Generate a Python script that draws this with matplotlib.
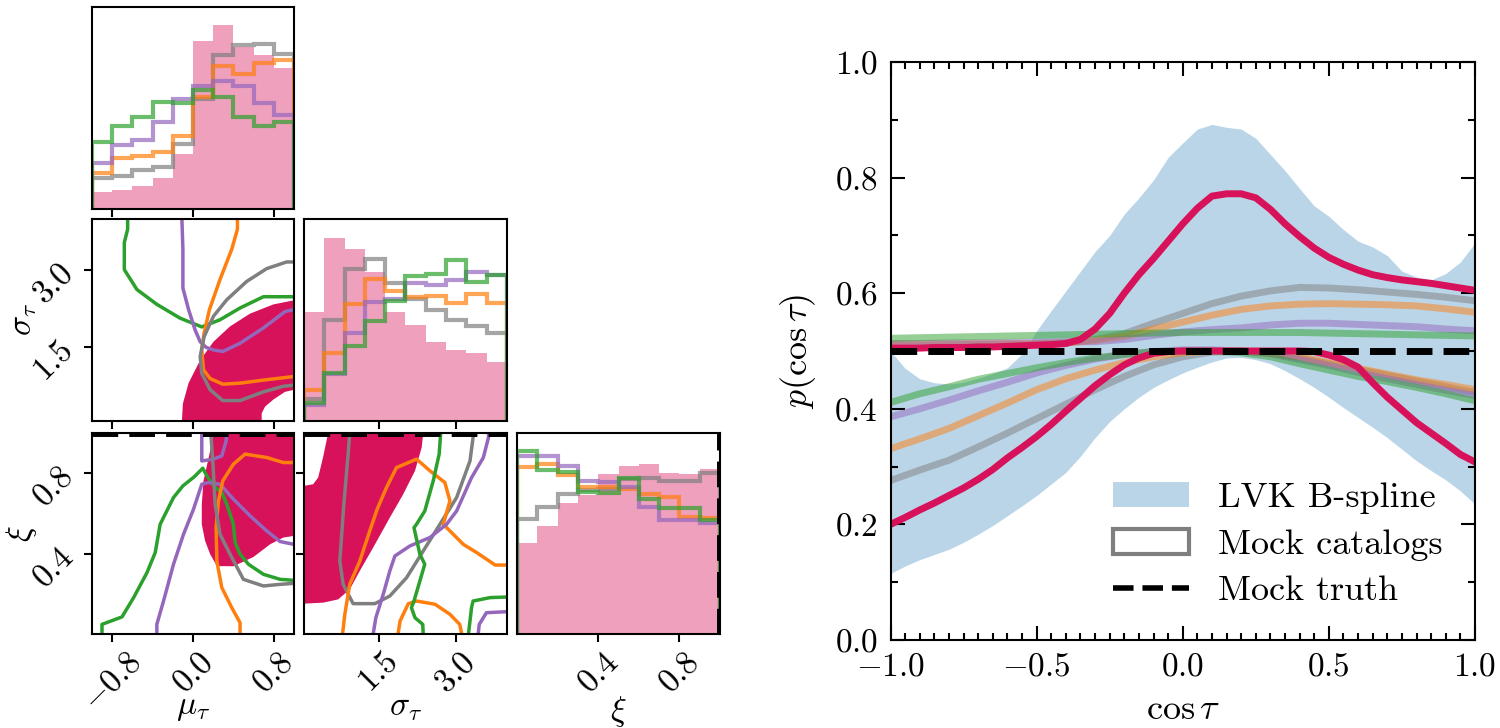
import numpy as np
import matplotlib
matplotlib.use('Agg')
import matplotlib.pyplot as plt
from matplotlib.patches import Patch
from matplotlib.lines import Line2D
from matplotlib.ticker import MultipleLocator, FixedLocator

plt.rcParams.update({
    'font.family': 'serif',
    'font.serif': ['cmr10', 'DejaVu Serif'],
    'mathtext.fontset': 'cm',
    'axes.formatter.use_mathtext': True,
    'axes.unicode_minus': True,
})

# ---------------- data: corner plot ----------------
MU_LIM = (-1.0, 1.0)
SIG_LIM = (0.05, 4.0)
XI_LIM = (0.0, 1.0)
MU_TICKS = [-0.8, 0.0, 0.8]
SIG_TICKS = [1.5, 3.0]
XI_TICKS = [0.4, 0.8]
TRUTH_XI = 1.0
N_BINS = 10

# diagonal histograms (relative heights)
mu_hist_data = [0.082, 0.092, 0.112, 0.153, 0.273, 0.832, 0.910, 0.803, 0.761, 0.696]
mu_hist_gray = [0.153, 0.161, 0.191, 0.206, 0.322, 0.543, 0.762, 0.811, 0.819, 0.766]
mu_hist_orange = [0.178, 0.252, 0.260, 0.280, 0.362, 0.556, 0.709, 0.668, 0.724, 0.740]
mu_hist_purple = [0.227, 0.317, 0.342, 0.433, 0.546, 0.609, 0.633, 0.609, 0.526, 0.465]
mu_hist_green = [0.334, 0.411, 0.457, 0.530, 0.523, 0.589, 0.556, 0.457, 0.411, 0.433]

sig_hist_data = [0.542, 0.906, 0.851, 0.736, 0.542, 0.476, 0.393, 0.352, 0.336, 0.294]
sig_hist_gray = [0.107, 0.501, 0.752, 0.802, 0.683, 0.603, 0.550, 0.501, 0.468, 0.435]
sig_hist_orange = [0.154, 0.336, 0.580, 0.702, 0.646, 0.613, 0.620, 0.583, 0.630, 0.583]
sig_hist_purple = [0.079, 0.233, 0.435, 0.590, 0.603, 0.683, 0.674, 0.696, 0.736, 0.722]
sig_hist_green = [0.091, 0.240, 0.369, 0.493, 0.592, 0.719, 0.727, 0.795, 0.689, 0.722]

xi_hist_data = [0.451, 0.537, 0.650, 0.691, 0.795, 0.835, 0.845, 0.802, 0.798, 0.823]
xi_hist_gray = [0.570, 0.630, 0.696, 0.716, 0.719, 0.769, 0.774, 0.762, 0.762, 0.803]
xi_hist_orange = [0.831, 0.848, 0.790, 0.732, 0.732, 0.719, 0.696, 0.683, 0.583, 0.575]
xi_hist_purple = [0.884, 0.884, 0.836, 0.762, 0.757, 0.732, 0.630, 0.567, 0.567, 0.550]
xi_hist_green = [0.911, 0.815, 0.807, 0.707, 0.702, 0.774, 0.674, 0.625, 0.625, 0.567]

# (mu, sigma) panel
ms_fill_mu = [-0.110, -0.100, -0.044, 0.071, 0.203, 0.367, 0.565, 0.796, 1.0, 1.0, 0.911, 0.796, 0.713, 0.680, 0.680]
ms_fill_sig = [0.05, 0.39, 0.79, 1.24, 1.60, 1.90, 2.15, 2.33, 2.41, 0.66, 0.62, 0.47, 0.33, 0.20, 0.05]
ms_green_mu = [-0.647, -0.647, -0.680, -0.680, -0.555, -0.357, -0.127, 0.087, 0.268, 0.466, 0.697, 1.0]
ms_green_sig = [4.01, 3.80, 3.54, 3.01, 2.62, 2.33, 2.06, 1.89, 2.03, 2.26, 2.48, 2.48]
ms_purple_mu = [-0.110, -0.100, -0.100, -0.044, 0.021, 0.071, 0.130, 0.203, 0.295, 0.466, 0.697, 0.911, 1.0]
ms_purple_sig = [4.01, 3.41, 2.65, 2.23, 1.83, 1.60, 1.49, 1.44, 1.41, 1.57, 1.87, 2.19, 2.23]
ms_orange_mu = [0.440, 0.440, 0.384, 0.268, 0.163, 0.110, 0.087, 0.104, 0.170, 0.295, 0.466, 0.697, 1.0]
ms_orange_sig = [4.01, 3.80, 3.41, 2.82, 2.23, 1.77, 1.44, 1.05, 0.88, 0.77, 0.79, 0.85, 0.92]
ms_gray_mu = [1.0, 0.927, 0.730, 0.532, 0.334, 0.203, 0.110, 0.071, 0.087, 0.170, 0.295, 0.466, 0.697, 0.895, 1.0]
ms_gray_sig = [3.16, 3.16, 3.03, 2.78, 2.42, 2.10, 1.70, 1.31, 0.98, 0.66, 0.45, 0.45, 0.62, 0.73, 0.75]

# (mu, xi) panel
mx_fill_mu = [0.203, 0.163, 0.104, 0.087, 0.087, 0.120, 0.170, 0.236, 0.400, 0.598, 0.763, 0.895, 1.0, 1.0]
mx_fill_xi = [1.0, 0.895, 0.762, 0.646, 0.546, 0.463, 0.397, 0.338, 0.337, 0.383, 0.446, 0.480, 0.488, 1.0]
mx_green_mu = [-0.901, -0.901, -0.703, -0.588, -0.456, -0.374, -0.325, -0.193, -0.100, 0.012, 0.097, 0.137,
               0.203, 0.285, 0.334, 0.400, 0.417, 0.466, 0.549, 0.697, 0.862, 1.0]
mx_green_xi = [0.0, 0.048, 0.085, 0.181, 0.305, 0.405, 0.546, 0.679, 0.737, 0.782, 0.825, 0.787,
               0.737, 0.704, 0.646, 0.546, 0.455, 0.397, 0.347, 0.297, 0.272, 0.267]
mx_purple_mu = [-0.358, -0.358, -0.292, -0.193, -0.094, 0.005, 0.087, 0.153, 0.268, 0.400, 0.565, 0.730, 0.862, 1.0]
mx_purple_xi = [0.0, 0.048, 0.164, 0.347, 0.496, 0.621, 0.745, 0.754, 0.745, 0.671, 0.588, 0.513, 0.460, 0.446]
mx_purple2_mu = [0.087, 0.087, 0.203, 0.285, 0.328, 0.334]
mx_purple2_xi = [1.0, 0.861, 0.870, 0.886, 0.961, 1.0]
mx_orange_mu = [0.466, 0.466, 0.384, 0.285, 0.236, 0.229, 0.252, 0.295, 0.400, 0.516, 0.730, 0.895, 1.0]
mx_orange_xi = [0.0, 0.056, 0.131, 0.231, 0.363, 0.529, 0.662, 0.762, 0.845, 0.895, 0.878, 0.853, 0.853]
mx_gray_mu = [0.176, 0.196, 0.219, 0.268, 0.367, 0.499, 0.697, 0.862, 1.0]
mx_gray_xi = [1.0, 0.861, 0.646, 0.496, 0.397, 0.272, 0.239, 0.247, 0.252]

# (sigma, xi) panel
sx_fill_sig = [0.05, 0.05, 0.42, 0.714, 0.94, 1.136, 1.396, 1.72, 1.98, 2.21, 2.34, 2.37, 0.52, 0.42, 0.325, 0.227, 0.05]
sx_fill_xi = [0.737, 0.151, 0.156, 0.172, 0.222, 0.314, 0.430, 0.579, 0.695, 0.812, 0.928, 1.0, 1.0, 0.878, 0.778, 0.745, 0.737]
sx_gray_sig = [0.94, 0.909, 0.825, 0.747, 0.812, 1.006, 1.429, 1.72, 2.045, 2.37, 2.695, 3.02, 3.28, 3.34, 3.34]
sx_gray_xi = [1.0, 0.895, 0.646, 0.363, 0.247, 0.151, 0.151, 0.189, 0.280, 0.413, 0.546, 0.679, 0.861, 0.978, 1.0]
sx_orange_sig = [0.80, 0.844, 0.94, 1.136, 1.33, 1.474, 1.656, 1.85, 2.24, 2.50, 2.79, 2.89, 2.76, 3.15, 3.41, 3.77, 4.0]
sx_orange_xi = [0.0, 0.098, 0.247, 0.363, 0.513, 0.621, 0.729, 0.828, 0.870, 0.812, 0.754, 0.662, 0.546, 0.446, 0.405, 0.343, 0.343]
sx_orange2_sig = [1.88, 1.92, 2.08, 2.24, 2.60, 2.89, 3.08, 3.12]
sx_orange2_xi = [0.0, 0.065, 0.151, 0.164, 0.148, 0.098, 0.048, 0.0]
sx_purple_sig = [1.396, 1.448, 1.591, 1.72, 1.818, 2.11, 2.50, 2.825, 3.02, 3.31, 3.54, 3.64, 3.64]
sx_purple_xi = [0.0, 0.081, 0.197, 0.314, 0.388, 0.438, 0.480, 0.546, 0.612, 0.778, 0.878, 0.978, 1.0]
sx_purple2_sig = [3.44, 3.46, 3.60, 4.0]
sx_purple2_xi = [0.0, 0.048, 0.106, 0.111]
sx_green_sig = [2.71, 2.68, 2.565, 2.40, 2.24, 2.19, 2.305, 2.40, 2.305, 2.19, 2.14, 2.21, 2.36, 2.37]
sx_green_xi = [1.0, 0.895, 0.762, 0.612, 0.546, 0.529, 0.397, 0.347, 0.264, 0.164, 0.131, 0.081, 0.048, 0.0]
sx_green2_sig = [3.25, 3.31, 3.34, 3.67, 4.0]
sx_green2_xi = [0.0, 0.131, 0.164, 0.181, 0.184]

# ---------------- data: p(cos tau) ----------------
COS_FINE = [-1.0, -0.95, -0.9, -0.85, -0.8, -0.75, -0.7, -0.65, -0.6, -0.55, -0.5,
            -0.45, -0.4, -0.35, -0.3, -0.25, -0.2, -0.15, -0.1, -0.05, 0.0,
            0.05, 0.1, 0.15, 0.2, 0.25, 0.3, 0.35, 0.4, 0.45, 0.5,
            0.55, 0.6, 0.65, 0.7, 0.75, 0.8, 0.85, 0.9, 0.95, 1.0]
LVK_HI = [0.500, 0.470, 0.452, 0.445, 0.443, 0.446, 0.453, 0.461, 0.471, 0.495, 0.535,
          0.570, 0.604, 0.638, 0.672, 0.700, 0.737, 0.765, 0.796, 0.835, 0.860,
          0.884, 0.892, 0.887, 0.884, 0.868, 0.840, 0.812, 0.781, 0.751, 0.733,
          0.710, 0.690, 0.680, 0.665, 0.638, 0.628, 0.623, 0.634, 0.654, 0.687]
LVK_LO = [0.115, 0.128, 0.139, 0.148, 0.157, 0.169, 0.183, 0.198, 0.215, 0.232, 0.250,
          0.270, 0.290, 0.318, 0.350, 0.378, 0.400, 0.420, 0.437, 0.450, 0.462,
          0.472, 0.481, 0.488, 0.489, 0.485, 0.478, 0.466, 0.452, 0.437, 0.420,
          0.402, 0.385, 0.368, 0.350, 0.330, 0.310, 0.293, 0.277, 0.258, 0.235]
DATA_HI = [0.505, 0.505, 0.505, 0.506, 0.506, 0.506, 0.507, 0.507, 0.508, 0.509, 0.510,
           0.511, 0.513, 0.520, 0.538, 0.565, 0.600, 0.632, 0.660, 0.690, 0.720,
           0.747, 0.768, 0.772, 0.772, 0.765, 0.745, 0.720, 0.698, 0.678, 0.662,
           0.650, 0.640, 0.632, 0.627, 0.623, 0.620, 0.617, 0.613, 0.609, 0.605]
DATA_LO = [0.200, 0.212, 0.225, 0.237, 0.250, 0.263, 0.278, 0.295, 0.315, 0.333, 0.352,
           0.373, 0.396, 0.418, 0.440, 0.459, 0.476, 0.488, 0.496, 0.499, 0.500,
           0.500, 0.500, 0.500, 0.500, 0.500, 0.500, 0.500, 0.500, 0.499, 0.493,
           0.485, 0.472, 0.445, 0.420, 0.398, 0.376, 0.358, 0.340, 0.321, 0.308]

COS_X = [-1.0, -0.9, -0.8, -0.7, -0.6, -0.5, -0.4, -0.3, -0.2, -0.1, 0.0,
         0.1, 0.2, 0.3, 0.4, 0.5, 0.6, 0.7, 0.8, 0.9, 1.0]
GRAY_HI = [0.510, 0.510, 0.511, 0.511, 0.512, 0.512, 0.514, 0.520, 0.530, 0.548, 0.565,
           0.582, 0.595, 0.604, 0.610, 0.609, 0.606, 0.602, 0.598, 0.593, 0.587]
GRAY_LO = [0.276, 0.294, 0.311, 0.334, 0.358, 0.383, 0.408, 0.433, 0.456, 0.476, 0.490,
           0.498, 0.500, 0.496, 0.488, 0.478, 0.468, 0.458, 0.448, 0.438, 0.428]
ORANGE_HI = [0.512, 0.512, 0.512, 0.513, 0.513, 0.513, 0.514, 0.518, 0.525, 0.538, 0.550,
             0.562, 0.572, 0.578, 0.581, 0.582, 0.581, 0.580, 0.578, 0.573, 0.567]
ORANGE_LO = [0.331, 0.348, 0.366, 0.388, 0.410, 0.433, 0.452, 0.467, 0.480, 0.490, 0.497,
             0.500, 0.500, 0.496, 0.490, 0.480, 0.470, 0.460, 0.450, 0.442, 0.433]
PURPLE_HI = [0.513, 0.513, 0.514, 0.514, 0.515, 0.515, 0.516, 0.516, 0.520, 0.527, 0.533,
             0.537, 0.540, 0.545, 0.548, 0.548, 0.546, 0.544, 0.542, 0.538, 0.535]
PURPLE_LO = [0.386, 0.400, 0.415, 0.431, 0.446, 0.462, 0.475, 0.486, 0.494, 0.499, 0.502,
             0.502, 0.500, 0.495, 0.485, 0.475, 0.463, 0.452, 0.442, 0.432, 0.423]
GREEN_HI = [0.522, 0.523, 0.524, 0.525, 0.526, 0.527, 0.528, 0.529, 0.530, 0.531, 0.532,
            0.532, 0.532, 0.532, 0.532, 0.531, 0.530, 0.529, 0.528, 0.527, 0.526]
GREEN_LO = [0.411, 0.426, 0.438, 0.451, 0.461, 0.471, 0.480, 0.488, 0.494, 0.499, 0.500,
            0.500, 0.497, 0.490, 0.478, 0.467, 0.456, 0.447, 0.437, 0.426, 0.414]
TRUTH_P = 0.5

LEGEND_LABELS = ['LVK B-spline', 'Mock catalogs', 'Mock truth']

# ---------------- styles ----------------
CRIMSON = '#D7125A'
C_GRAY, C_ORANGE, C_PURPLE, C_GREEN = '#7f7f7f', '#ff7f0e', '#9467bd', '#2ca02c'
FS = 24
FS_LAB = 26
W, H = 1500, 728

fig = plt.figure(figsize=(W / 100, H / 100), dpi=100)


def px_axes(x0, y0, x1, y1):
    return fig.add_axes([x0 / W, 1 - y1 / H, (x1 - x0) / W, (y1 - y0) / H])


cols = [(92, 294), (304, 507), (517, 720)]
rows = [(7, 209), (219, 421), (433, 634)]
lims = [MU_LIM, SIG_LIM, XI_LIM]
ticks = [MU_TICKS, SIG_TICKS, XI_TICKS]
labels = [r'$\mu_\tau$', r'$\sigma_\tau$', r'$\xi$']


def style_corner(ax, i, j):
    ax.set_xlim(*lims[j])
    ax.xaxis.set_major_locator(FixedLocator(ticks[j]))
    ax.tick_params(direction='out', length=6, width=1.5, labelsize=FS)
    for s in ax.spines.values():
        s.set_linewidth(1.5)
    if i == 2:
        ax.set_xlabel(labels[j], fontsize=FS)
        ax.xaxis.set_label_coords(0.5, -0.3)
        for lab in ax.get_xticklabels():
            lab.set_rotation(45)
    else:
        ax.set_xticklabels([])
    if i != j:
        ax.set_ylim(*lims[i])
        ax.yaxis.set_major_locator(FixedLocator(ticks[i]))
        if j == 0:
            ax.set_ylabel(labels[i], fontsize=FS)
            ax.yaxis.set_label_coords(-0.26, 0.5)
            for lab in ax.get_yticklabels():
                lab.set_rotation(45)
        else:
            ax.set_yticklabels([])
    else:
        ax.set_ylim(0, 1)
        ax.set_yticks([])


hist_sets = [
    (mu_hist_data, mu_hist_gray, mu_hist_orange, mu_hist_purple, mu_hist_green),
    (sig_hist_data, sig_hist_gray, sig_hist_orange, sig_hist_purple, sig_hist_green),
    (xi_hist_data, xi_hist_gray, xi_hist_orange, xi_hist_purple, xi_hist_green),
]

axes = {}
for i in range(3):
    for j in range(i + 1):
        axes[(i, j)] = px_axes(cols[j][0], rows[i][0], cols[j][1], rows[i][1])

# diagonal
for k in range(3):
    ax = axes[(k, k)]
    edges = np.linspace(lims[k][0], lims[k][1], N_BINS + 1)
    d, g, o, p, gr = hist_sets[k]
    ax.stairs(d, edges, fill=True, color=CRIMSON, alpha=0.4, lw=0)
    for vals, c in [(g, C_GRAY), (o, C_ORANGE), (p, C_PURPLE), (gr, C_GREEN)]:
        ax.stairs(vals, edges, baseline=0, fill=False, color=c, alpha=0.7, lw=3)
    if k == 2:
        ax.axvline(TRUTH_XI, color='k', ls='--', lw=5)
    style_corner(ax, k, k)

# off diagonal
ax = axes[(1, 0)]
ax.fill(ms_fill_mu, ms_fill_sig, color=CRIMSON, lw=0)
for xs, ys, c in [(ms_green_mu, ms_green_sig, C_GREEN), (ms_purple_mu, ms_purple_sig, C_PURPLE),
                  (ms_orange_mu, ms_orange_sig, C_ORANGE), (ms_gray_mu, ms_gray_sig, C_GRAY)]:
    ax.plot(xs, ys, color=c, lw=2.5)
style_corner(ax, 1, 0)

ax = axes[(2, 0)]
ax.fill(mx_fill_mu, mx_fill_xi, color=CRIMSON, lw=0)
for xs, ys, c in [(mx_green_mu, mx_green_xi, C_GREEN), (mx_purple_mu, mx_purple_xi, C_PURPLE),
                  (mx_purple2_mu, mx_purple2_xi, C_PURPLE),
                  (mx_orange_mu, mx_orange_xi, C_ORANGE), (mx_gray_mu, mx_gray_xi, C_GRAY)]:
    ax.plot(xs, ys, color=c, lw=2.5)
ax.axhline(TRUTH_XI, color='k', ls='--', lw=5)
style_corner(ax, 2, 0)

ax = axes[(2, 1)]
ax.fill(sx_fill_sig, sx_fill_xi, color=CRIMSON, lw=0)
for xs, ys, c in [(sx_gray_sig, sx_gray_xi, C_GRAY), (sx_orange_sig, sx_orange_xi, C_ORANGE),
                  (sx_orange2_sig, sx_orange2_xi, C_ORANGE),
                  (sx_purple_sig, sx_purple_xi, C_PURPLE), (sx_purple2_sig, sx_purple2_xi, C_PURPLE),
                  (sx_green_sig, sx_green_xi, C_GREEN), (sx_green2_sig, sx_green2_xi, C_GREEN)]:
    ax.plot(xs, ys, color=c, lw=2.5)
ax.axhline(TRUTH_XI, color='k', ls='--', lw=5)
style_corner(ax, 2, 1)

# ---------------- right panel ----------------
ax = px_axes(890.5, 62, 1475, 640)
ax.fill_between(COS_FINE, LVK_LO, LVK_HI, color='C0', alpha=0.3, lw=0)
for lo, hi, c in [(GRAY_LO, GRAY_HI, C_GRAY), (ORANGE_LO, ORANGE_HI, C_ORANGE),
                  (PURPLE_LO, PURPLE_HI, C_PURPLE), (GREEN_LO, GREEN_HI, C_GREEN)]:
    ax.plot(COS_X, lo, color=c, alpha=0.5, lw=5, solid_capstyle='butt')
    ax.plot(COS_X, hi, color=c, alpha=0.5, lw=5, solid_capstyle='butt')
ax.plot(COS_FINE, DATA_LO, color=CRIMSON, lw=5)
ax.plot(COS_FINE, DATA_HI, color=CRIMSON, lw=5)
ax.axhline(TRUTH_P, color='k', ls='--', lw=5)
ax.set_xlim(-1, 1)
ax.set_ylim(0, 1)
ax.xaxis.set_major_locator(MultipleLocator(0.5))
ax.xaxis.set_minor_locator(MultipleLocator(0.05))
ax.yaxis.set_major_locator(MultipleLocator(0.2))
ax.yaxis.set_minor_locator(MultipleLocator(0.1))
ax.tick_params(which='both', direction='in', top=True, right=True, width=1.5, labelsize=FS, pad=9)
ax.tick_params(which='major', length=10)
ax.tick_params(which='minor', length=5)
for s in ax.spines.values():
    s.set_linewidth(1.5)
ax.set_xlabel(r'$\cos\tau$', fontsize=FS_LAB, labelpad=9)
ax.set_ylabel(r'$p(\cos\tau)$', fontsize=FS_LAB, labelpad=12)

handles = [Patch(facecolor='C0', alpha=0.3, edgecolor='none'),
           Patch(facecolor='white', edgecolor=C_GRAY, lw=3),
           Line2D([], [], color='k', ls='--', lw=4)]
ax.legend(handles, LEGEND_LABELS, loc='lower right', frameon=False, fontsize=26,
          handlelength=2.1, handleheight=0.7, handletextpad=0.8,
          labelspacing=0.4, borderaxespad=0.5)

fig.savefig('out.png', dpi=100)
